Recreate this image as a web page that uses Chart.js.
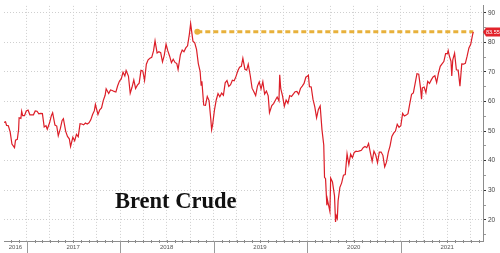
<!DOCTYPE html>
<html><head><meta charset="utf-8">
<script src="https://cdn.jsdelivr.net/npm/chart.js@4/dist/chart.umd.min.js"></script>
<style>
html,body{margin:0;padding:0;background:#fff;}
#wrap{position:relative;width:500px;height:253px;overflow:hidden;}
#title{position:absolute;left:115px;top:190px;font-family:"Liberation Serif","DejaVu Serif",serif;font-weight:bold;font-size:22.5px;line-height:1;color:#111;white-space:nowrap;}
</style></head><body>
<div id="wrap"><canvas id="c" width="500" height="253"></canvas><div id="title">Brent Crude</div></div>
<script>
// ---- data (Brent crude, USD/bbl) ----
const dates = [
'2016-10-04','2016-10-10','2016-10-14','2016-10-21','2016-10-28','2016-11-04','2016-11-14','2016-11-18','2016-11-25','2016-11-30',
'2016-12-02','2016-12-09','2016-12-12','2016-12-16','2016-12-23','2016-12-30',
'2017-01-06','2017-01-13','2017-01-20','2017-01-27','2017-02-03','2017-02-10','2017-02-17','2017-02-24','2017-03-03','2017-03-10',
'2017-03-17','2017-03-22','2017-03-31','2017-04-07','2017-04-12','2017-04-21','2017-04-28','2017-05-04','2017-05-12','2017-05-19',
'2017-05-24','2017-06-02','2017-06-09','2017-06-16','2017-06-21','2017-06-30','2017-07-07','2017-07-14','2017-07-21','2017-07-28',
'2017-08-04','2017-08-11','2017-08-18','2017-08-25','2017-09-01','2017-09-08','2017-09-15','2017-09-22','2017-09-26','2017-10-06',
'2017-10-13','2017-10-20','2017-10-27','2017-11-03','2017-11-07','2017-11-17','2017-11-24','2017-12-01','2017-12-08','2017-12-15',
'2017-12-22','2017-12-29',
'2018-01-05','2018-01-12','2018-01-19','2018-01-24','2018-02-02','2018-02-09','2018-02-16','2018-02-23','2018-03-02','2018-03-09',
'2018-03-16','2018-03-23','2018-03-30','2018-04-06','2018-04-13','2018-04-20','2018-04-27','2018-05-04','2018-05-11','2018-05-17',
'2018-05-25','2018-06-01','2018-06-08','2018-06-15','2018-06-22','2018-06-29','2018-07-06','2018-07-13','2018-07-20','2018-07-27',
'2018-08-03','2018-08-10','2018-08-15','2018-08-24','2018-08-31','2018-09-07','2018-09-14','2018-09-21','2018-09-28','2018-10-03',
'2018-10-12','2018-10-19','2018-10-26','2018-11-02','2018-11-09','2018-11-13','2018-11-16','2018-11-23','2018-11-30','2018-12-07',
'2018-12-14','2018-12-21','2018-12-24','2018-12-28',
'2019-01-04','2019-01-11','2019-01-18','2019-01-25','2019-02-01','2019-02-08','2019-02-15','2019-02-22','2019-03-01','2019-03-08',
'2019-03-15','2019-03-22','2019-03-29','2019-04-05','2019-04-12','2019-04-19','2019-04-25','2019-05-03','2019-05-10','2019-05-16',
'2019-05-24','2019-05-31','2019-06-07','2019-06-14','2019-06-21','2019-06-28','2019-07-05','2019-07-12','2019-07-19','2019-07-26',
'2019-08-02','2019-08-07','2019-08-16','2019-08-23','2019-08-30','2019-09-06','2019-09-13','2019-09-16','2019-09-20','2019-09-27',
'2019-10-04','2019-10-11','2019-10-18','2019-10-25','2019-11-01','2019-11-08','2019-11-15','2019-11-22','2019-11-29','2019-12-06',
'2019-12-13','2019-12-20','2019-12-27',
'2020-01-03','2020-01-06','2020-01-10','2020-01-17','2020-01-24','2020-01-31','2020-02-07','2020-02-14','2020-02-21','2020-02-28',
'2020-03-06','2020-03-09','2020-03-13','2020-03-18','2020-03-20','2020-03-30','2020-04-02','2020-04-09','2020-04-17','2020-04-21',
'2020-04-24','2020-04-28','2020-05-01','2020-05-08','2020-05-15','2020-05-22','2020-05-29','2020-06-05','2020-06-12','2020-06-19',
'2020-06-26','2020-07-03','2020-07-10','2020-07-17','2020-07-24','2020-07-31','2020-08-07','2020-08-14','2020-08-21','2020-08-28',
'2020-09-04','2020-09-11','2020-09-18','2020-09-25','2020-10-02','2020-10-09','2020-10-16','2020-10-23','2020-10-30','2020-11-06',
'2020-11-13','2020-11-20','2020-11-27','2020-12-04','2020-12-11','2020-12-18','2020-12-25',
'2021-01-01','2021-01-08','2021-01-15','2021-01-22','2021-01-29','2021-02-05','2021-02-12','2021-02-19','2021-02-26','2021-03-05',
'2021-03-12','2021-03-19','2021-03-23','2021-03-26','2021-04-02','2021-04-09','2021-04-16','2021-04-23','2021-04-30','2021-05-07',
'2021-05-14','2021-05-21','2021-05-28','2021-06-04','2021-06-11','2021-06-18','2021-06-25','2021-07-02','2021-07-05','2021-07-09',
'2021-07-16','2021-07-19','2021-07-23','2021-07-30','2021-08-06','2021-08-13','2021-08-20','2021-08-27','2021-09-03','2021-09-10',
'2021-09-17','2021-09-24','2021-10-01','2021-10-08','2021-10-11'
];
const brent = [
52.9,53.1,51.9,51.8,49.7,45.6,44.4,46.9,47.2,50.5,
54.5,54.3,56.7,55.2,55.2,56.8,
57.1,55.5,55.5,55.5,56.8,56.7,55.8,56.0,55.9,51.4,
51.8,50.6,52.8,55.2,56.2,52.0,51.7,48.4,50.8,53.6,
54.2,49.9,48.2,47.4,44.8,47.9,46.7,48.9,48.1,52.5,
52.4,52.1,52.7,52.4,52.8,53.8,55.6,56.9,59.0,55.6,
57.2,57.8,60.4,62.1,64.3,62.7,63.9,63.7,63.4,63.2,
65.3,66.9,
67.6,69.9,68.6,70.5,68.6,62.8,64.8,67.3,64.4,65.5,
66.2,70.5,70.3,67.1,72.6,74.1,74.6,74.9,77.1,80.5,
76.4,76.8,76.5,73.4,75.6,79.4,77.1,75.3,73.1,74.3,
73.2,72.8,70.8,75.8,77.4,76.8,78.1,78.8,82.7,86.3,
80.4,79.8,77.6,72.8,70.2,65.5,66.8,58.8,58.7,61.7,
60.3,53.8,50.5,52.2,
57.1,60.5,62.7,61.6,62.8,62.1,66.3,67.1,65.1,65.7,
67.2,67.0,68.4,70.3,71.6,71.9,74.6,70.9,70.6,72.6,
68.7,64.5,63.3,62.0,65.2,66.6,64.2,66.7,62.5,63.5,
61.9,56.2,58.6,59.3,60.4,61.5,60.2,69.0,64.3,61.9,
58.4,60.5,59.4,62.0,61.7,62.5,63.3,63.4,62.4,64.4,
65.2,66.1,68.2,
68.6,68.9,65.0,64.9,60.7,58.2,54.5,57.3,58.5,50.5,
45.3,34.4,33.9,24.9,27.0,22.8,34.1,32.8,28.1,19.3,
21.4,20.5,26.4,31.0,32.5,35.1,35.3,42.3,38.7,42.2,
41.0,42.8,43.2,43.1,43.3,43.5,44.4,44.8,44.4,45.8,
42.7,39.8,43.2,41.9,39.3,42.9,42.9,41.8,37.9,39.5,
42.8,45.0,48.2,49.3,50.0,52.3,51.3,
51.8,56.0,55.1,55.4,55.9,59.3,62.4,62.9,66.1,69.4,
69.2,64.5,60.8,64.6,64.9,63.0,66.8,66.1,67.3,68.3,
68.7,66.4,69.6,71.9,72.7,73.5,76.2,76.2,77.2,75.6,
73.6,68.6,74.1,76.3,70.7,70.6,65.2,72.7,72.6,72.9,
75.3,78.1,79.3,82.4,83.55
];
const yTicks = [15,20,25,30,35,40,45,50,55,60,65,70,75,80,85,90];
const xStart = '2016-10-04';
const xEnd = '2021-11-18';
const refStart = '2018-10-29';   // start of dashed "back to 2018 levels" line

// ---- helpers ----
const t = s => Date.parse(s + 'T00:00:00Z');
const xMin = t(xStart), xMax = t(xEnd);
const firstYearTick = (xMin + Date.UTC(2017,0,1)) / 2;
const lastVal = brent[brent.length-1];
const lastDate = dates[dates.length-1];

const series = dates.map((d,i)=>({x:t(d), y:brent[i]}));
const refLine = [{x:t(refStart), y:lastVal},{x:t(lastDate), y:lastVal}];

const RED = '#DC1E28', GOLD = '#E8B13B';

const extras = {
  id:'extras',
  afterDraw(chart){
    const ctx = chart.ctx, xs = chart.scales.x, ys = chart.scales.y, ca = chart.chartArea;
    ctx.save();
    // monthly tick marks & year separators
    for (let y=2016; y<=2021; y++){
      for (let m=0; m<12; m++){
        const v = Date.UTC(y,m,1);
        if (v<=xMin || v>=xMax) continue;
        const px = Math.round(xs.getPixelForValue(v)) + 0.5;
        ctx.beginPath();
        ctx.lineWidth = 1;
        if (m===0){
          ctx.strokeStyle = '#9a9a9a';
          ctx.moveTo(px, ca.bottom); ctx.lineTo(px, chart.height);
        } else {
          ctx.strokeStyle = '#8c8c8c';
          ctx.moveTo(px, ca.bottom-1); ctx.lineTo(px, ca.bottom+2);
        }
        ctx.stroke();
      }
    }
    // last value label
    const py = Math.round(ys.getPixelForValue(lastVal));
    const x0 = ca.right + 2;
    ctx.fillStyle = '#E2232B';
    ctx.beginPath();
    ctx.moveTo(x0-2, py);
    ctx.lineTo(x0+1, py-4.5);
    ctx.lineTo(chart.width, py-4.5);
    ctx.lineTo(chart.width, py+4.5);
    ctx.lineTo(x0+1, py+4.5);
    ctx.closePath();
    ctx.fill();
    ctx.fillStyle = '#fff';
    ctx.font = '5.5px "Liberation Sans", Arial, sans-serif';
    ctx.textAlign = 'left';
    ctx.textBaseline = 'middle';
    ctx.fillText(lastVal.toFixed(2), x0+1, py+0.5);
    ctx.restore();
  }
};

new Chart(document.getElementById('c'), {
  type:'line',
  data:{
    datasets:[
      {label:'Brent', data:series, borderColor:RED, borderWidth:1.2, pointRadius:0, tension:0, order:0},
      {label:'ref', data:refLine, borderColor:GOLD, borderWidth:3, borderDash:[5,3], pointRadius:[3,0],
       pointBackgroundColor:GOLD, pointBorderWidth:0, order:1}
    ]
  },
  options:{
    responsive:false, animation:false, devicePixelRatio:1,
    layout:{padding:0},
    plugins:{legend:{display:false}, tooltip:{enabled:false}, title:{display:false}},
    scales:{
      x:{
        type:'linear', min:xMin, max:xMax, bounds:'data',
        afterBuildTicks(scale){
          const arr = [];
          for (let y=2016; y<=2021; y++) for (let m=0; m<12; m+=3){
            const v = Date.UTC(y,m,1);
            if (v>xMin && v<xMax) arr.push({value:v});
          }
          arr.push({value:firstYearTick});
          arr.sort((a,b)=>a.value-b.value);
          scale.ticks = arr;
        },
        afterFit(scale){ scale.height = 12; },
        grid:{
          color: c => (c.tick && c.tick.value===firstYearTick) ? 'rgba(0,0,0,0)' : '#cfcfcf',
          lineWidth:1, drawTicks:false
        },
        border:{display:true, color:'#8c8c8c', width:1, dash:[1,2]},
        ticks:{
          autoSkip:false, maxRotation:0, padding:3,
          color:'#555', font:{family:'"Liberation Sans", Arial, sans-serif', size:6},
          callback(v){
            if (v===firstYearTick) return '2016';
            const d = new Date(v);
            return d.getUTCMonth()===6 ? String(d.getUTCFullYear()) : '';
          }
        }
      },
      y:{
        type:'linear', position:'right', min:12.85, max:92.3, bounds:'data',
        afterBuildTicks(scale){ scale.ticks = yTicks.map(v=>({value:v})); },
        afterFit(scale){ scale.width = 17; },
        grid:{
          color: c => (c.tick && c.tick.value%10===0) ? '#cfcfcf' : 'rgba(0,0,0,0)',
          tickColor: c => (c.tick && c.tick.value%10===0) ? '#333' : '#9a9a9a',
          lineWidth:1, drawTicks:true, tickLength:3
        },
        border:{display:true, color:'#8c8c8c', width:1, dash:[1,2]},
        ticks:{
          padding:2, color:'#444', font:{family:'"Liberation Sans", Arial, sans-serif', size:6.5},
          callback: v => (v%10===0 ? String(v) : '')
        }
      }
    }
  },
  plugins:[extras]
});
</script>
</body></html>
